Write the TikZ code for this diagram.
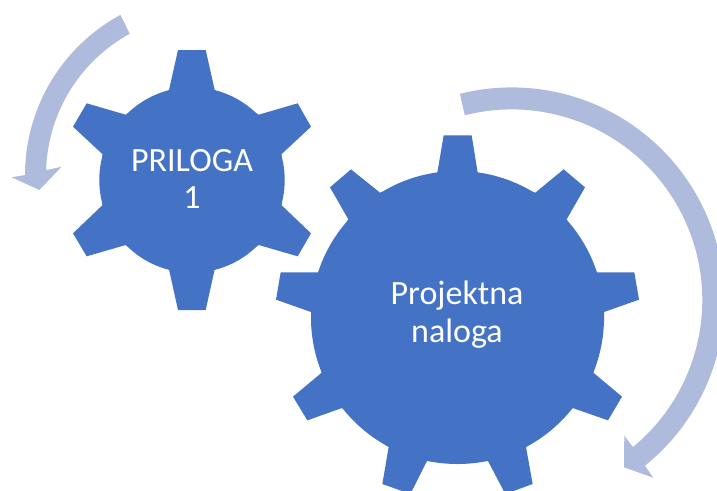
\documentclass[tikz,border=0pt]{standalone}
\usepackage{fontspec}
\setmainfont{Carlito}
\definecolor{gearblue}{HTML}{4472C4}
\definecolor{arrowblue}{HTML}{AFBBDD}
\tikzset{
  gearfill/.style={fill=gearblue,draw=none},
  turnarrow/.style={fill=arrowblue,draw=none},
  gearlabel/.style={text=white,align=center,font=\fontsize{25.5pt}{28.4pt}\selectfont,inner sep=0pt}
}
\begin{document}
\begin{tikzpicture}[x=0.75pt,y=-0.75pt]
\useasboundingbox (0,0) rectangle (717,490);
\clip (0,0) rectangle (717,490);
% arrows
\fill[turnarrow] plot[smooth,domain=241.6:180,samples=40] ({207+182*cos(\x)},{175+182*sin(\x)})
  -- (11.7,177.3) -- (39.3,190) -- (61.7,166.7) -- (47,170)
  -- plot[smooth,domain=181.8:241.3,samples=40] ({207+161*cos(\x)},{175+161*sin(\x)}) -- cycle;
\fill[turnarrow] plot[smooth,domain=-104.1:51.2,samples=80] ({511.7+212.6*cos(\x)},{300+212.6*sin(\x)})
  -- (653.3,477.7) -- (624,467.3) -- (624.3,435.7)
  -- plot[smooth,domain=50.5:-104.25,samples=80] ({511.7+190.6*cos(\x)},{300+190.6*sin(\x)}) -- cycle;
% small gear
\fill[gearfill] (192,180) circle (92.7);
\fill[gearfill] (169,90)--(178,50)--(205.7,50)--(214.7,90)--(258.7,114.7)--(297.7,103.3)--(311,126.7)--(281.7,154)
 --(281.7,205.3)--(311,233.3)--(297.7,256.3)--(258.7,245)--(214.7,269.3)--(205.7,310)--(178,310)--(169,269.3)
 --(125.7,245)--(86.7,256.3)--(73,233.3)--(102.3,205.3)--(102.3,154)--(73,126.7)--(86.7,103.3)--(125.7,114.7)--cycle;
% large gear
\fill[gearfill] (457.5,317.5) circle (146.5);
\begin{scope}[shift={(270,80)},x=0.25pt,y=-0.25pt]
\fill[gearfill] (502,278)--(521,166)--(605,166)--(623,278)--(796,338)--(881,268)--(945,322)--(890,418)
 --(980,577)--(1093,577)--(1107,659)--(1002,696)--(1002,728)--(970,878)--(1056,950)--(1014,1021)--(908,984)
 --(768,1101)--(788,1212)--(706,1242)--(654,1143)--(471,1143)--(421,1242)--(337,1212)--(356,1101)
 --(216,984)--(112,1021)--(69,950)--(155,878)--(123,728)--(123,696)--(18,659)--(32,577)--(145,577)
 --(235,418)--(180,322)--(243,268)--(330,338)--cycle;
\end{scope}
\node[gearlabel] (small) at (192,179) {PRILOGA\\1};
\node[gearlabel] (large) at (457,315) {Projektna\\naloga};
\end{tikzpicture}
\end{document}
